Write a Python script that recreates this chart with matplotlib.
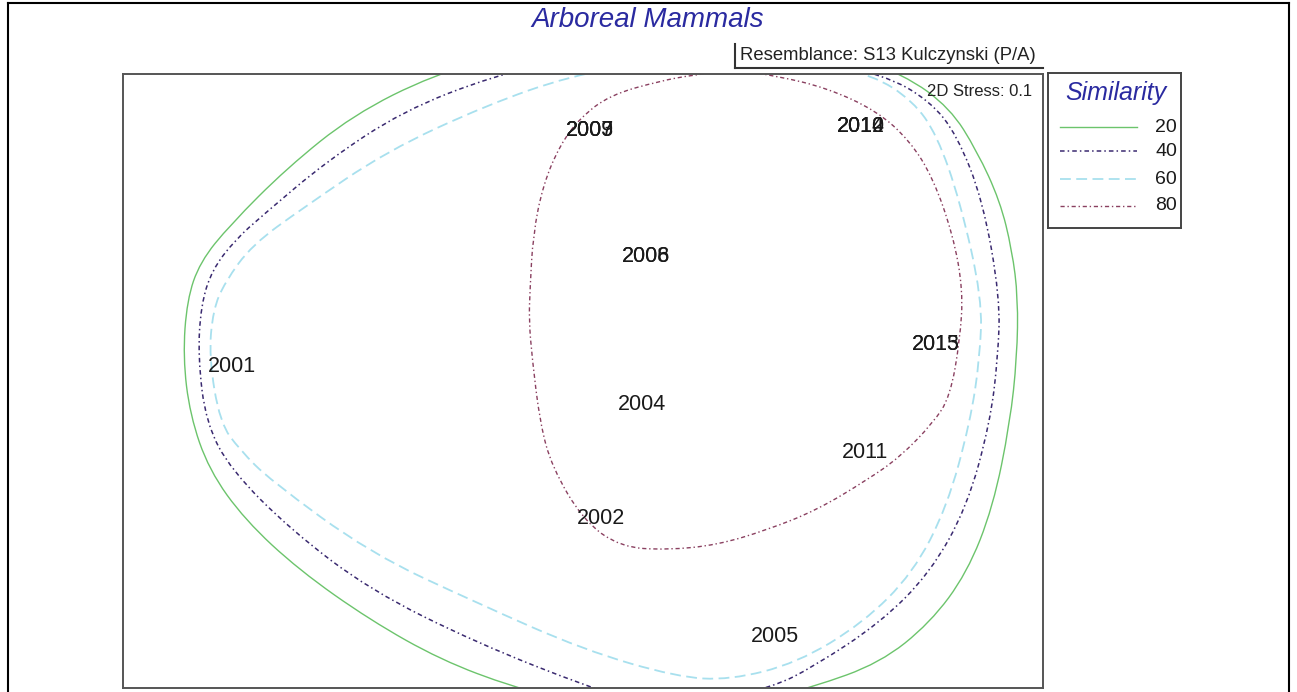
import matplotlib
matplotlib.use("Agg")
import matplotlib.pyplot as plt
from matplotlib.lines import Line2D
from matplotlib.path import Path
from matplotlib.patches import PathPatch

# ---------------- data (nMDS configuration, plot units) ----------------
years = ['2001', '2002', '2003', '2004', '2005', '2006', '2007', '2008',
         '2009', '2010', '2011', '2012', '2013', '2014', '2015']
mds_x = [232, 601, 590, 642, 775, 646, 590, 646, 590, 861, 865, 861, 936, 861, 936]
mds_y = [367, 518, 131, 405, 637, 256, 131, 256, 131, 127, 452, 127, 345, 127, 345]

sim_levels = ['20', '40', '60', '80']

# similarity contours (closed loops)
c20_x = [433, 520, 620, 720, 820, 905, 950, 977, 1000, 1012, 1018, 1017, 1010, 993, 967, 930, 880, 813,
         740, 660, 580, 513, 441, 370, 299, 245, 209, 190, 183, 187, 200, 230, 287, 353]
c20_y = [75, 50, 36, 32, 42, 75, 108, 151, 201, 250, 298, 357, 423, 507, 573, 623, 663, 687,
         707, 712, 705, 687, 660, 620, 570, 520, 470, 415, 357, 300, 262, 225, 168, 115]

c40_x = [493, 580, 680, 780, 885, 930, 957, 983, 1000, 998, 990, 967, 930, 880, 813, 773,
         700, 640, 591, 477, 370, 291, 231, 206, 198, 201, 212, 235, 263, 327, 403]
c40_y = [76, 56, 46, 50, 75, 101, 135, 201, 298, 357, 423, 507, 573, 623, 667, 687,
         704, 702, 688, 643, 590, 530, 470, 423, 357, 305, 270, 240, 215, 161, 111]

c60_x = [570, 650, 730, 810, 873, 913, 937, 960, 982, 980, 970, 947, 913, 863, 797, 730,
         677, 584, 477, 370, 270, 240, 220, 209, 213, 225, 252, 303, 387, 487]
c60_y = [76, 62, 58, 62, 75, 101, 135, 201, 298, 357, 423, 507, 573, 623, 663, 680,
         677, 650, 603, 553, 480, 450, 423, 357, 310, 282, 245, 208, 151, 105]

c80_x = [693, 735, 777, 827, 877, 910, 933, 953, 963, 960, 950, 933, 900, 867, 817, 767,
         717, 667, 620, 583, 552, 540, 532, 529, 530, 533, 543, 560, 580, 610, 660]
c80_y = [75, 70, 76, 88, 111, 141, 178, 235, 290, 340, 397, 423, 457, 480, 510, 530,
         545, 550, 547, 520, 467, 423, 357, 320, 290, 235, 185, 145, 118, 95, 81]

# ---------------- figure ----------------
W, H = 1297, 692
fig = plt.figure(figsize=(W / 100, H / 100), dpi=100)
plt.rcParams['font.family'] = ['Liberation Sans', 'DejaVu Sans']


def fx(px):
    return px / W


def fy(py):
    return 1 - py / H


def smooth_loop(xs, ys):
    """Closed quadratic-Bezier path using the read points as control points."""
    n = len(xs)
    pts = list(zip(xs, ys))
    mid = lambda a, b: ((a[0] + b[0]) / 2, (a[1] + b[1]) / 2)
    verts = [mid(pts[0], pts[1])]
    codes = [Path.MOVETO]
    for i in range(1, n + 1):
        p = pts[i % n]
        q = pts[(i + 1) % n]
        verts += [p, mid(p, q)]
        codes += [Path.CURVE3, Path.CURVE3]
    return Path(verts, codes)


# outer border of the whole figure
for seg in [([8, 8], [3, 700]), ([1289, 1289], [3, 700]), ([8, 1289], [3, 3])]:
    fig.add_artist(Line2D([fx(v) for v in seg[0]], [fy(v) for v in seg[1]], color='black', lw=1.5))

L, T, R, B = 123, 74, 1043, 688
ax = fig.add_axes([fx(L), fy(B), fx(R) - fx(L), fy(T) - fy(B)])
ax.set_xlim(L, R)
ax.set_ylim(B, T)
ax.set_xticks([])
ax.set_yticks([])
for s in ax.spines.values():
    s.set_color('#555555')
    s.set_linewidth(1.4)

styles = {
    '20': dict(color='#6cc46c', lw=1.0, ls='-'),
    '40': dict(color='#3a2a70', lw=1.1, ls=(0, (3, 2, 1, 2))),
    '60': dict(color='#a8e0ee', lw=1.3, ls=(0, (6, 3))),
    '80': dict(color='#8a4060', lw=1.0, ls=(0, (3, 2, 1, 2))),
}
contours = {'20': (c20_x, c20_y), '40': (c40_x, c40_y), '60': (c60_x, c60_y), '80': (c80_x, c80_y)}
for lev in sim_levels:
    cx, cy = contours[lev]
    st = styles[lev]
    patch = PathPatch(smooth_loop(cx, cy), facecolor='none', edgecolor=st['color'],
                      lw=st['lw'], ls=st['ls'])
    ax.add_patch(patch)

for lab, x, y in zip(years, mds_x, mds_y):
    ax.text(x, y, lab, ha='center', va='center', fontsize=15.5, color='#1a1a1a')

ax.text(1032, 92, '2D Stress: 0.1', ha='right', va='center', fontsize=12, color='#222222')

# title
fig.text(fx(648), fy(20), 'Arboreal Mammals', ha='center', va='center', fontsize=20,
         style='italic', color='#2a2aa0')

# resemblance box
fig.add_artist(Line2D([fx(735), fx(735)], [fy(44), fy(68)], color='#333333', lw=1.5))
fig.add_artist(Line2D([fx(735), fx(1043)], [fy(68), fy(68)], color='#333333', lw=1.5))
fig.text(fx(740), fy(56), 'Resemblance: S13 Kulczynski (P/A)', ha='left', va='center',
         fontsize=13.3, color='#222222')

# legend box
lg = fig.add_axes([fx(1048), fy(228), fx(1181) - fx(1048), fy(73) - fy(228)])
lg.set_xlim(1048, 1181)
lg.set_ylim(228, 73)
lg.set_xticks([])
lg.set_yticks([])
for s in lg.spines.values():
    s.set_color('#444444')
    s.set_linewidth(1.4)
lg.text(1116, 93, 'Similarity', ha='center', va='center', fontsize=18, style='italic', color='#2a2aa0')
leg_y = [127, 151, 179, 206]
for lev, yy in zip(sim_levels, leg_y):
    lg.plot([1060, 1137], [yy, yy], **styles[lev])
    lg.text(1177, yy, lev, ha='right', va='center', fontsize=14, color='#1a1a1a')

fig.savefig('out.png', dpi=100)
